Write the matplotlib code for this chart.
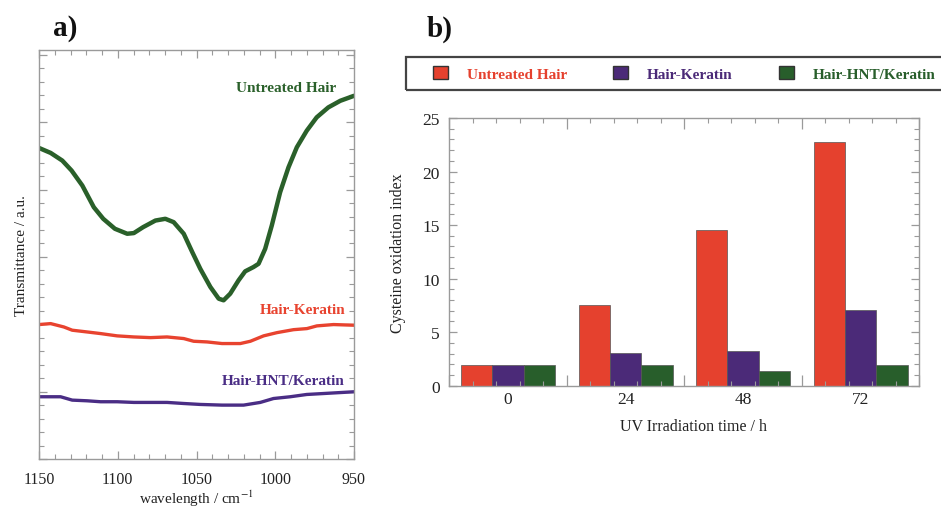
import numpy as np
import matplotlib
matplotlib.use("Agg")
import matplotlib.pyplot as plt
from matplotlib.patches import Patch, Rectangle
from matplotlib.ticker import MultipleLocator, FixedLocator

plt.rcParams['font.family'] = ['Liberation Serif', 'DejaVu Serif']
plt.rcParams['mathtext.fontset'] = 'stix'

# --- panel a) FTIR spectra (arbitrary units) ---
wn_untreated = [1150.0, 1142.6, 1135.2, 1129.3, 1122.5, 1115.2, 1109.2, 1101.8, 1094.0, 1089.8,
                1083.9, 1076.1, 1069.8, 1064.5, 1058.1, 1052.7, 1047.6, 1041.2, 1035.9, 1032.8,
                1028.6, 1023.3, 1019.1, 1013.8, 1010.6, 1006.4, 1002.2, 996.9, 991.6, 986.3,
                980.0, 973.7, 966.3, 958.7, 950.0]
tr_untreated = [23.09, 22.72, 22.15, 21.41, 20.30, 18.69, 17.83, 17.09, 16.72, 16.77,
                17.21, 17.70, 17.83, 17.58, 16.72, 15.36, 14.12, 12.77, 11.90, 11.78,
                12.27, 13.26, 13.93, 14.25, 14.49, 15.60, 17.33, 19.80, 21.65, 23.14,
                24.37, 25.36, 26.10, 26.59, 26.96]

wn_keratin = [1150, 1142.6, 1134.2, 1128.9, 1119.4, 1110.9, 1100.4, 1089.8, 1079.2, 1068.7,
              1058.1, 1051.8, 1043.3, 1033.8, 1022.2, 1015.8, 1007.4, 998.9, 988.4, 979.9,
              973.6, 963.0, 950.0]
tr_keratin = [9.98, 10.05, 9.80, 9.56, 9.43, 9.31, 9.14, 9.06, 9.01, 9.06,
              8.94, 8.74, 8.69, 8.57, 8.57, 8.74, 9.14, 9.38, 9.60, 9.68,
              9.88, 9.98, 9.93]

wn_hnt = [1150, 1136.3, 1128.9, 1119.4, 1110.9, 1100.4, 1089.8, 1079.2, 1068.7, 1058.1,
          1047.6, 1033.8, 1020.1, 1009.5, 1001.1, 990.5, 980.0, 969.4, 950.0]
tr_hnt = [4.62, 4.62, 4.37, 4.32, 4.25, 4.25, 4.20, 4.20, 4.20, 4.12,
          4.05, 4.00, 4.00, 4.20, 4.49, 4.62, 4.79, 4.86, 4.99]

# --- panel b) cysteine oxidation index ---
hours = ['0', '24', '48', '72']
series = ['Untreated Hair', 'Hair-Keratin', 'Hair-HNT/Keratin']
untreated = [1.93, 7.53, 14.54, 22.79]
keratin = [1.93, 3.05, 3.27, 7.10]
hnt_keratin = [1.93, 1.96, 1.40, 1.96]

RED = '#e5412e'
PURPLE = '#4b2a78'
GREEN = '#285e2b'
SPINE = '#9a9a9a'
TXT = '#222222'

W, H = 941, 510
fig = plt.figure(figsize=(W / 100, H / 100), dpi=100)


def frac(l, r, t, b):
    return [l / W, 1 - b / H, (r - l) / W, (b - t) / H]


def style_axes(ax, size):
    for s in ax.spines.values():
        s.set_color(SPINE)
        s.set_linewidth(1.0)
    ax.tick_params(which='both', direction='in', top=True, right=True,
                   color=SPINE, labelcolor=TXT, labelsize=size)
    ax.tick_params(which='major', length=6, width=0.9)
    ax.tick_params(which='minor', length=3.5, width=0.8)


# ---------------- a) ----------------
ax1 = fig.add_axes(frac(39, 354, 51, 460))
ax1.plot(wn_untreated, tr_untreated, color='#2a602a', lw=3.2, solid_joinstyle='round', solid_capstyle='round')
ax1.plot(wn_keratin, tr_keratin, color='#e8432f', lw=2.4, solid_joinstyle='round')
ax1.plot(wn_hnt, tr_hnt, color='#4a2d85', lw=2.4, solid_joinstyle='round')
ax1.set_xlim(1150, 950)
ax1.set_ylim(0, 30.36)
ax1.xaxis.set_major_locator(MultipleLocator(50))
ax1.xaxis.set_minor_locator(MultipleLocator(10))
ax1.yaxis.set_major_locator(MultipleLocator(5))
ax1.yaxis.set_minor_locator(MultipleLocator(1))
style_axes(ax1, 11.5)
ax1.tick_params(axis='y', which='both', labelleft=False)
ax1.tick_params(axis='x', pad=9)
ax1.set_xlabel('wavelength / cm$^{-1}$', fontsize=11, color=TXT)
ax1.xaxis.set_label_coords(0.5, (460 - 499) / 409)
ax1.xaxis.label.set_va('center')
ax1.set_ylabel('Transmittance / a.u.', fontsize=11, color=TXT, labelpad=8)

ax1.text(961.4, 27.6, 'Untreated Hair', color='#2a602a', fontsize=11, fontweight='bold',
         ha='right', va='center')
ax1.text(955.7, 11.1, 'Hair-Keratin', color='#e8432f', fontsize=11, fontweight='bold',
         ha='right', va='center')
ax1.text(955.7, 5.86, 'Hair-HNT/Keratin', color='#4a2d85', fontsize=11, fontweight='bold',
         ha='right', va='center')

fig.text(53 / W, 1 - 29 / H, 'a)', fontsize=21, fontweight='bold', color='#111111', va='center')
fig.text(427 / W, 1 - 29 / H, 'b)', fontsize=21, fontweight='bold', color='#111111', va='center')

# ---------------- b) ----------------
ax2 = fig.add_axes(frac(449.3, 919.3, 119, 386.7))
x = np.arange(len(hours))
bw = 0.8 / 3
colors = [RED, PURPLE, GREEN]
for k, vals in enumerate([untreated, keratin, hnt_keratin]):
    ax2.bar(x + (k - 1) * bw, vals, width=bw, color=colors[k], edgecolor='#555555',
            linewidth=0.5, label=series[k], zorder=1)
ax2.set_xlim(-0.5, len(hours) - 0.5)
ax2.set_ylim(0, 25)
ax2.yaxis.set_major_locator(MultipleLocator(5))
ax2.yaxis.set_minor_locator(MultipleLocator(1))
ax2.xaxis.set_major_locator(FixedLocator(np.arange(-0.5, len(hours), 1.0)))
ax2.xaxis.set_minor_locator(FixedLocator(np.arange(-0.5, len(hours) - 0.45, 0.2)))
style_axes(ax2, 12.5)
ax2.tick_params(axis='x', which='major', length=8, labelbottom=False)
ax2.tick_params(axis='y', pad=7)
for i, h in enumerate(hours):
    ax2.text(i, -0.05, h, transform=ax2.get_xaxis_transform(), ha='center', va='center',
             fontsize=12.5, color=TXT)
ax2.set_xlabel('UV Irradiation time / h', fontsize=11.5, color=TXT)
ax2.xaxis.set_label_coords((693 - 449.3) / 470, -0.15)
ax2.xaxis.label.set_va('center')
ax2.set_ylabel('Cysteine oxidation index', fontsize=11.5, color=TXT, labelpad=12)

# legend frame running off the right edge, as in the figure
fig.add_artist(Rectangle((406 / W, 1 - 91 / H), (950 - 406) / W, 33 / H,
                         transform=fig.transFigure, fill=False, edgecolor='#444444', lw=1.6))
handles = [Patch(facecolor=c, edgecolor='#333333', lw=1.0) for c in colors]
leg = fig.legend(handles, series, loc='center left', bbox_to_anchor=(433 / W, 1 - 74.5 / H),
                 ncol=3, frameon=False, borderpad=0, borderaxespad=0,
                 handlelength=0.95, handleheight=0.95, handletextpad=1.25, columnspacing=3.05,
                 prop={'family': 'Liberation Serif', 'weight': 'bold', 'size': 11})
for t, c in zip(leg.get_texts(), colors):
    t.set_color(c)

fig.savefig('out.png', dpi=100)
